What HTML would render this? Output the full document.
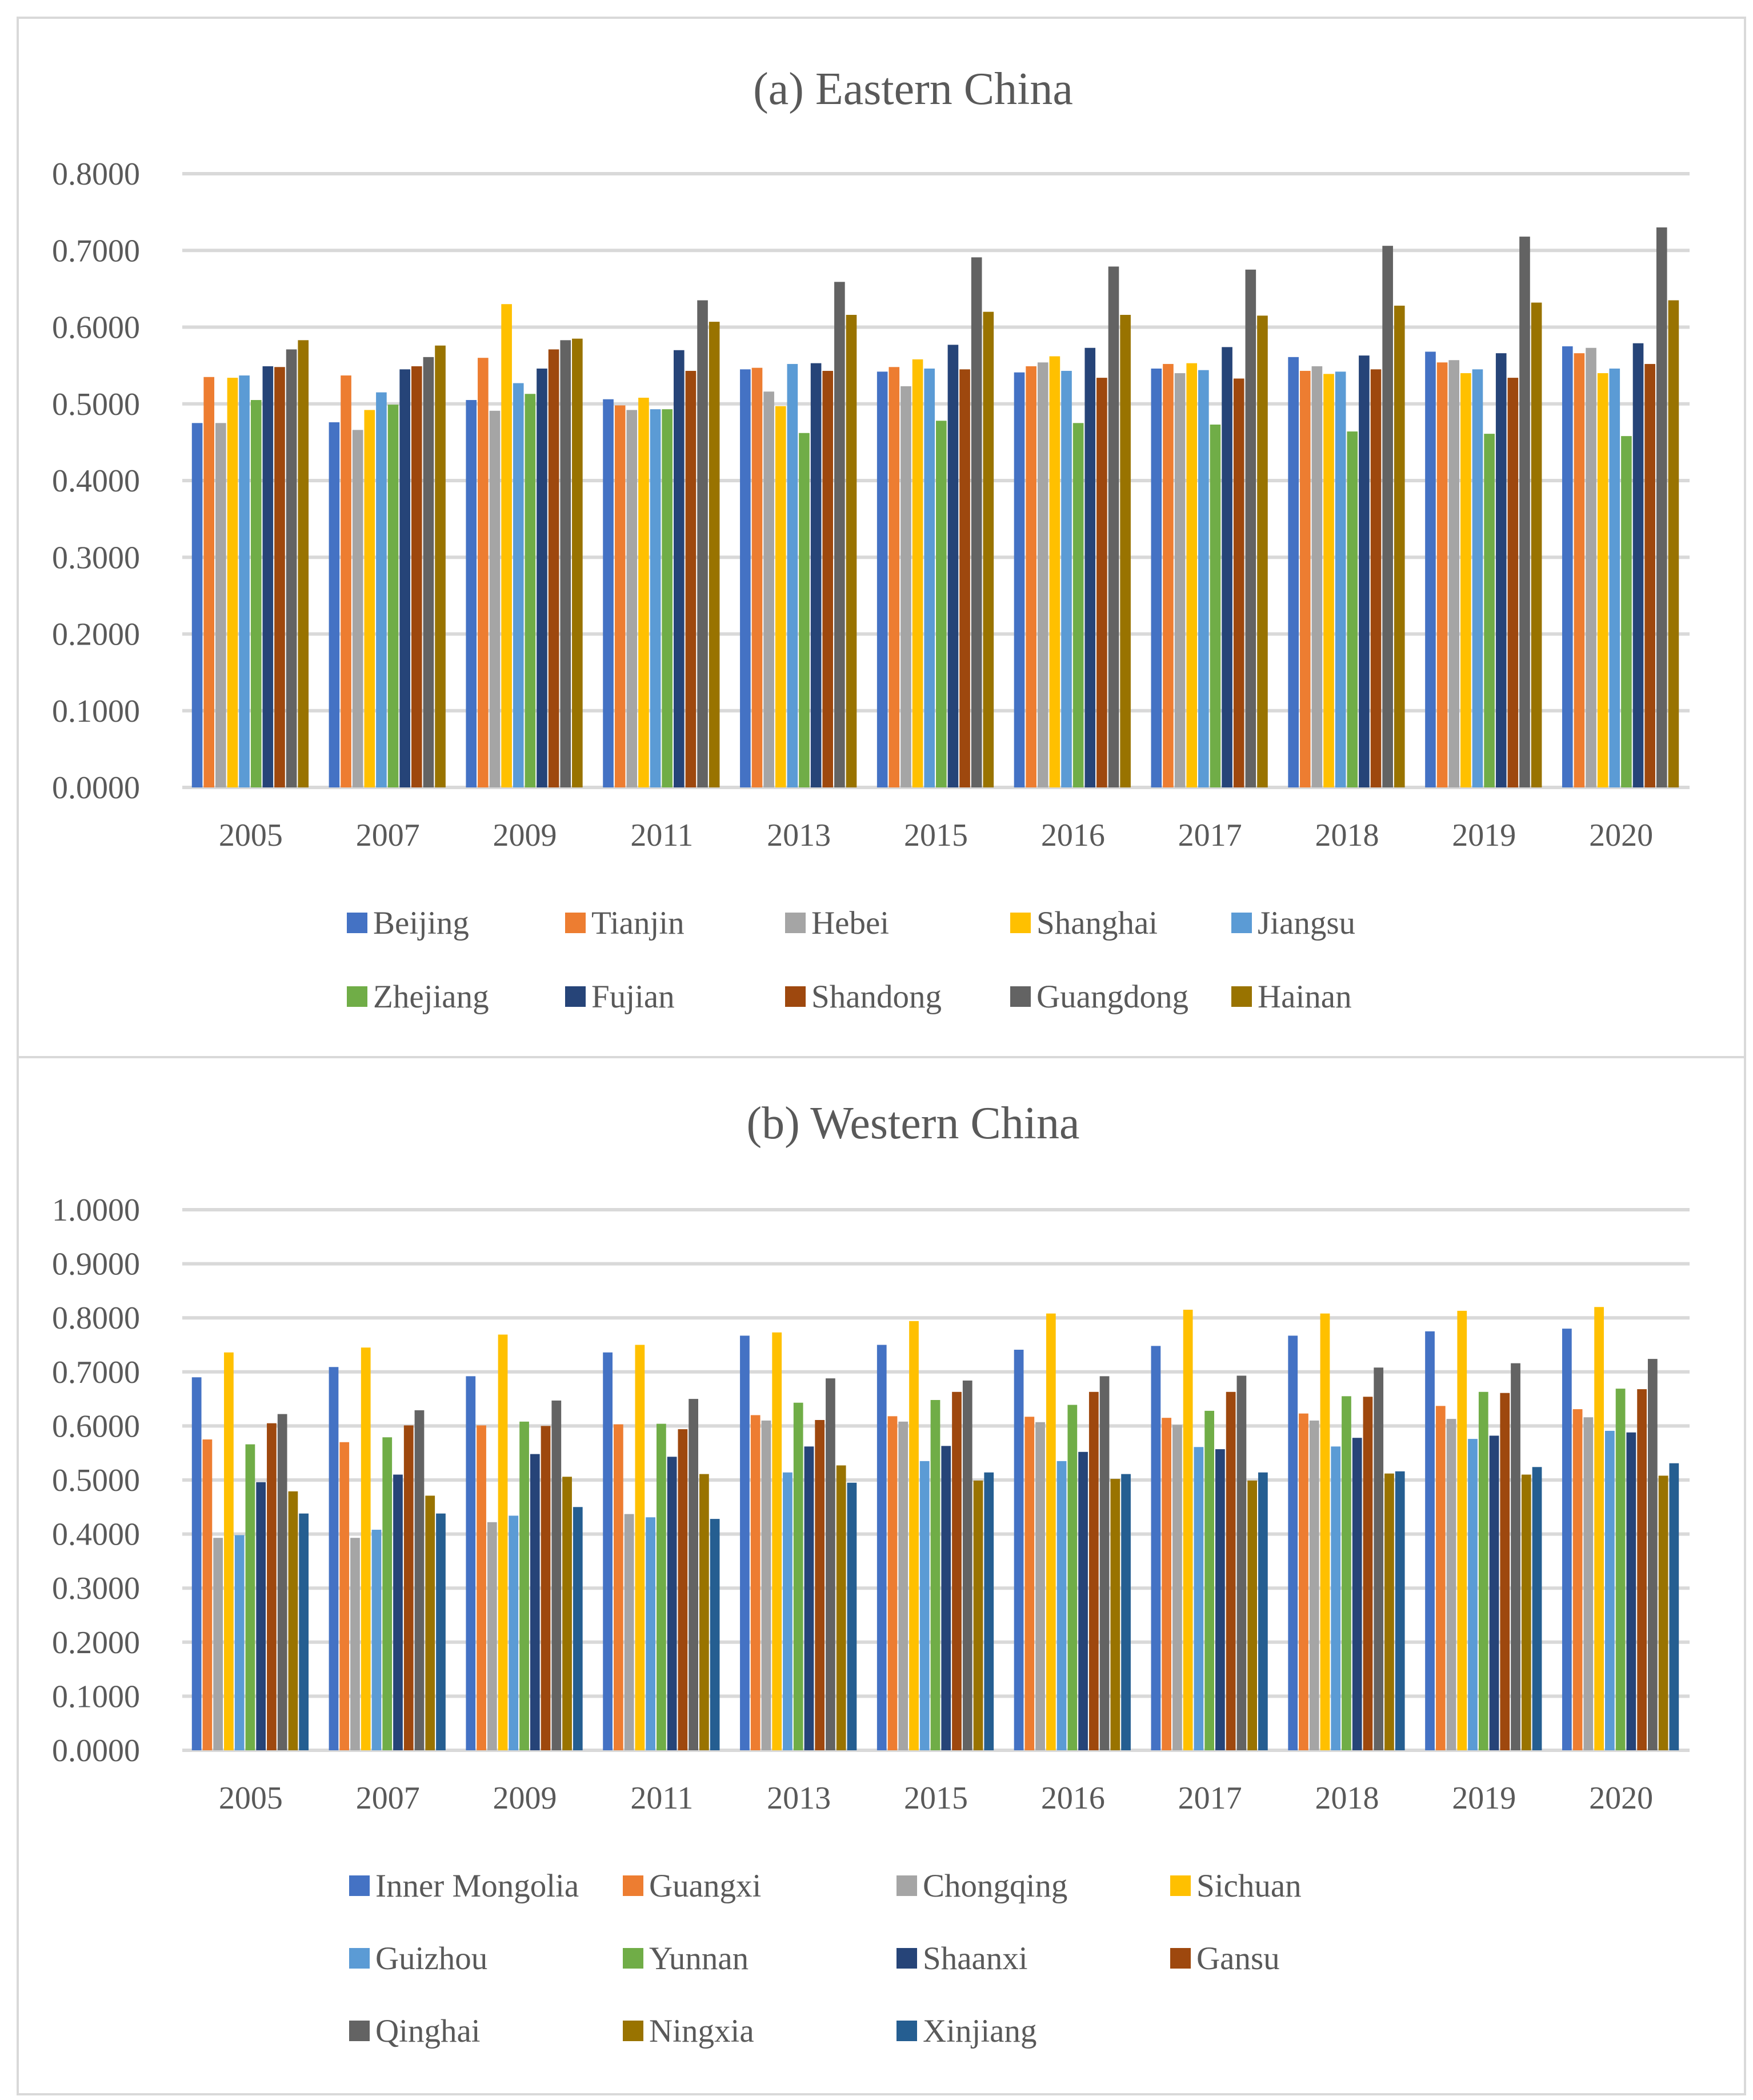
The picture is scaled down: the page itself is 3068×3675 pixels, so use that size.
<!DOCTYPE html>
<html><head><meta charset="utf-8"><style>
html,body{margin:0;padding:0;background:#fff;}
svg{display:block;}
text{font-family:"Liberation Serif",serif;fill:#595959;}
</style></head><body>
<svg id="svg" width="3068" height="3675" viewBox="0 0 3068 3675" xmlns="http://www.w3.org/2000/svg">
<rect x="0" y="0" width="3068" height="3675" fill="#fff"/>
<rect x="31" y="31" width="3023" height="1819" fill="none" stroke="#d9d9d9" stroke-width="4"/>
<rect x="31" y="1850" width="3023" height="1815" fill="none" stroke="#d9d9d9" stroke-width="4"/>
<text x="1598" y="182" font-size="80" text-anchor="middle">(a) Eastern China</text>
<text x="1598" y="1992" font-size="80" text-anchor="middle">(b) Western China</text>
<g id="ga"></g><g id="gb"></g>
</svg>
<script>
const years = ["2005","2007","2009","2011","2013","2015","2016","2017","2018","2019","2020"];
const eastSeries = ["Beijing","Tianjin","Hebei","Shanghai","Jiangsu","Zhejiang","Fujian","Shandong","Guangdong","Hainan"];
const eastValues = [
[0.475,0.535,0.475,0.534,0.537,0.505,0.549,0.548,0.571,0.583],
[0.476,0.537,0.466,0.492,0.515,0.499,0.545,0.549,0.561,0.576],
[0.505,0.560,0.491,0.630,0.527,0.513,0.546,0.571,0.583,0.585],
[0.506,0.498,0.492,0.508,0.493,0.493,0.570,0.543,0.635,0.607],
[0.545,0.547,0.516,0.497,0.552,0.462,0.553,0.543,0.659,0.616],
[0.542,0.548,0.523,0.558,0.546,0.478,0.577,0.545,0.691,0.620],
[0.541,0.549,0.554,0.562,0.543,0.475,0.573,0.534,0.679,0.616],
[0.546,0.552,0.540,0.553,0.544,0.473,0.574,0.533,0.675,0.615],
[0.561,0.543,0.549,0.539,0.542,0.464,0.563,0.545,0.706,0.628],
[0.568,0.554,0.557,0.540,0.545,0.461,0.566,0.534,0.718,0.632],
[0.575,0.566,0.573,0.540,0.546,0.458,0.579,0.552,0.730,0.635]];
const eastTicks = ["0.0000","0.1000","0.2000","0.3000","0.4000","0.5000","0.6000","0.7000","0.8000"];
const westSeries = ["Inner Mongolia","Guangxi","Chongqing","Sichuan","Guizhou","Yunnan","Shaanxi","Gansu","Qinghai","Ningxia","Xinjiang"];
const westValues = [
[0.690,0.575,0.393,0.736,0.398,0.566,0.496,0.605,0.622,0.479,0.438],
[0.709,0.570,0.393,0.745,0.408,0.579,0.510,0.601,0.629,0.471,0.438],
[0.692,0.601,0.422,0.769,0.434,0.608,0.548,0.600,0.647,0.506,0.450],
[0.736,0.603,0.437,0.750,0.431,0.604,0.543,0.594,0.650,0.511,0.428],
[0.767,0.620,0.610,0.773,0.514,0.643,0.562,0.611,0.688,0.527,0.495],
[0.750,0.618,0.608,0.794,0.535,0.648,0.563,0.663,0.684,0.499,0.514],
[0.741,0.617,0.607,0.808,0.535,0.639,0.552,0.663,0.692,0.502,0.511],
[0.748,0.615,0.602,0.815,0.561,0.628,0.557,0.663,0.693,0.499,0.514],
[0.767,0.623,0.610,0.808,0.562,0.655,0.578,0.654,0.708,0.512,0.516],
[0.775,0.637,0.613,0.813,0.576,0.663,0.582,0.661,0.716,0.510,0.524],
[0.780,0.631,0.616,0.820,0.591,0.669,0.588,0.668,0.724,0.508,0.531]];
const westTicks = ["0.0000","0.1000","0.2000","0.3000","0.4000","0.5000","0.6000","0.7000","0.8000","0.9000","1.0000"];
const colors = ["#4472C4","#ED7D31","#A5A5A5","#FFC000","#5B9BD5","#70AD47","#264478","#9E480E","#636363","#997300","#255E91"];
const NS="http://www.w3.org/2000/svg";
function mk(tag,attrs,parent){const e=document.createElementNS(NS,tag);for(const k in attrs)e.setAttribute(k,attrs[k]);parent.appendChild(e);return e;}
function draw(g,series,values,ticks,yTop,yBot,xLabY,legendRows,legendCols,prefix){
  const x0=319,x1=2957,maxV=parseFloat(ticks[ticks.length-1]);
  const y=v=>yBot-(v/maxV)*(yBot-yTop);
  ticks.forEach(t=>{
    const v=parseFloat(t);
    const l=mk('line',{x1:x0,x2:x1,y1:y(v),y2:y(v),stroke:'#d9d9d9','stroke-width':6},g);
    
    
    const tx=mk('text',{x:245,y:y(v)+19,'font-size':56,'text-anchor':'end'},g);
    tx.textContent=t;
    
    
  });
  const gw=(x1-x0)/years.length,n=series.length;
  const inner=gw*0.86,bw=inner/n;
  years.forEach((yr,i)=>{
    const gx=x0+i*gw+(gw-inner)/2;
    values[i].forEach((v,j)=>{
      const r=mk('rect',{x:gx+j*bw,y:y(v),width:bw-2,height:yBot-y(v),fill:colors[j]},g);
      
      
    });
    const tx=mk('text',{x:x0+(i+0.5)*gw,y:xLabY,'font-size':56,'text-anchor':'middle'},g);
    tx.textContent=yr;
    
    
  });
  series.forEach((s,j)=>{
    const col=j%legendCols.length,row=Math.floor(j/legendCols.length);
    const lx=legendCols[col],ly=legendRows[row];
    const sq=mk('rect',{x:lx,y:ly-20,width:36,height:36,fill:colors[j]},g);
    
    
    const tx=mk('text',{x:lx+46,y:ly+17,'font-size':57},g);
    tx.textContent=s;
    
    
  });
}
draw(document.getElementById('ga'),eastSeries,eastValues,eastTicks,304,1378,1480,[1617,1746],[607,989,1374,1768,2155],'east-');
draw(document.getElementById('gb'),westSeries,westValues,westTicks,2117,3063,3165,[3302,3429,3556],[611,1090,1569,2048],'west-');
</script>
</body></html>
